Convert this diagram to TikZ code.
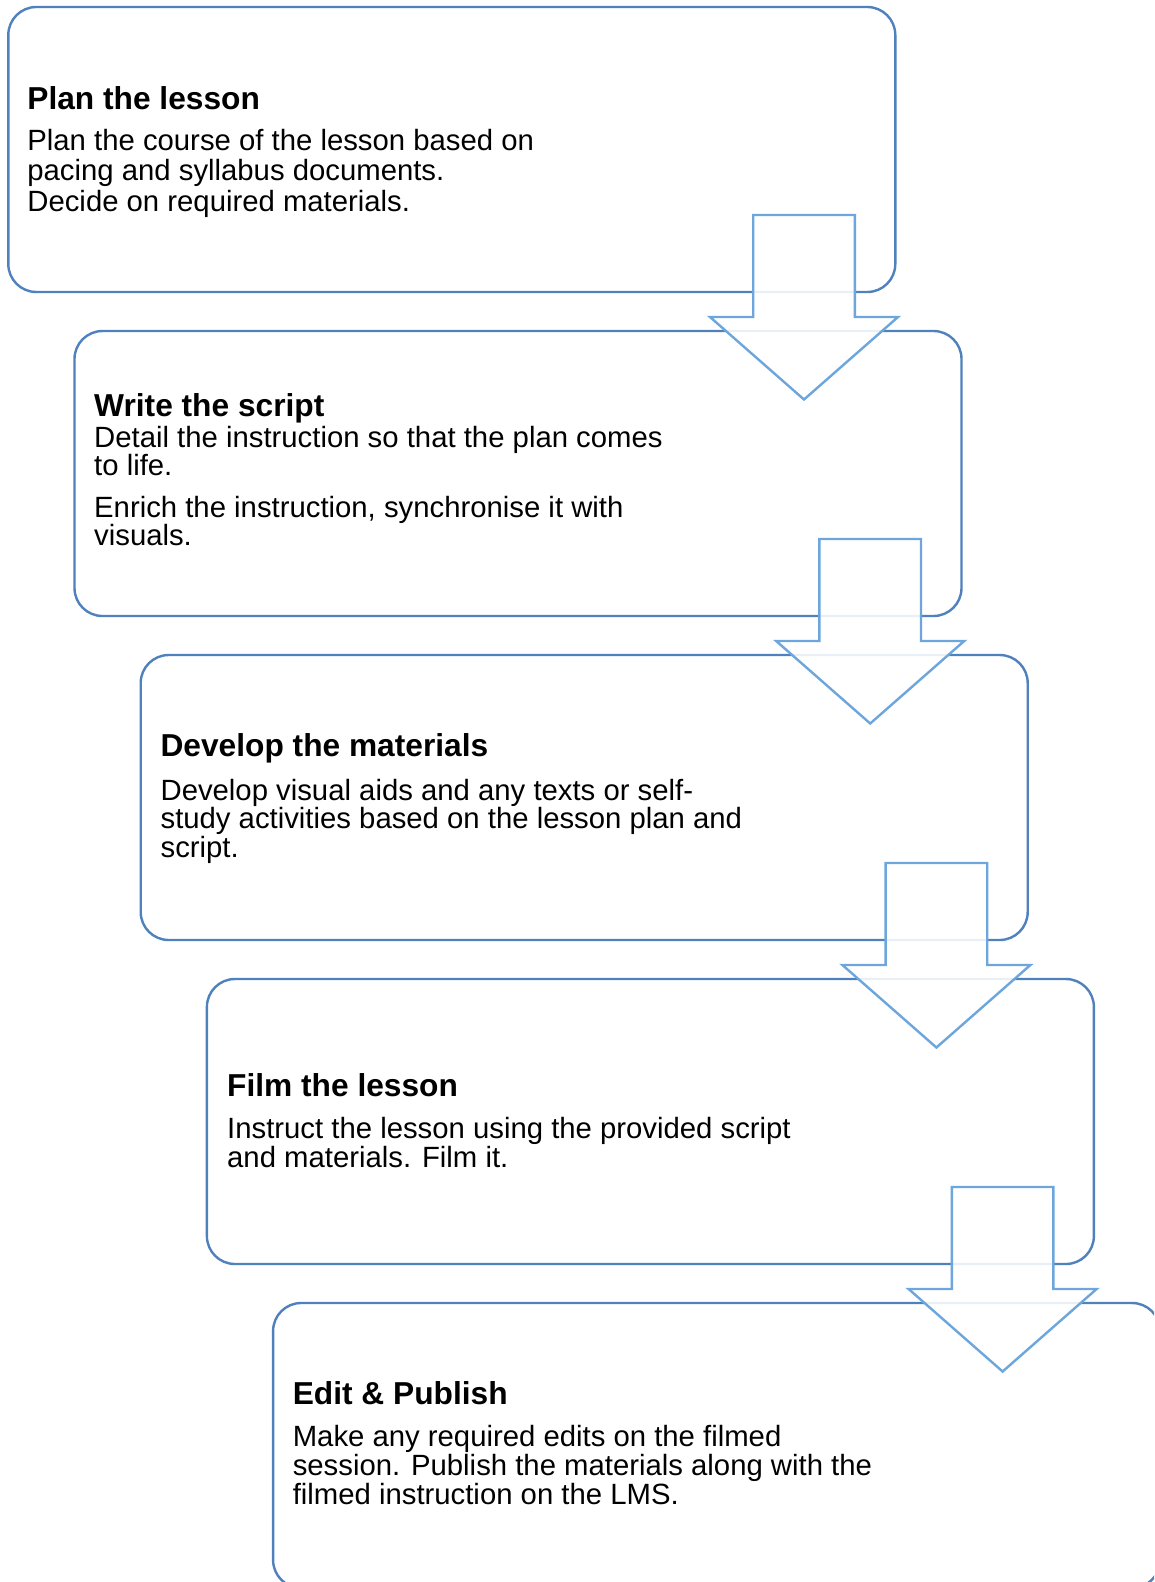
\documentclass[tikz,border=0pt]{standalone}
\usepackage{fontspec}
\setmainfont{Liberation Sans}
\definecolor{boxblue}{RGB}{79,129,189}
\definecolor{arrblue}{RGB}{108,166,221}
\begin{document}
\begin{tikzpicture}[x=1pt,y=-1pt,
  box/.style={draw=boxblue, line width=2.4pt, rounded corners=28pt, fill=white,
    minimum width=887pt, minimum height=285pt, inner sep=0pt, outer sep=0pt},
  blockarrow/.style={draw=arrblue, line width=2.4pt, fill=white, fill opacity=0.88, line join=miter},
  ttl/.style={anchor=base west, inner sep=0pt, font=\fontsize{31.7}{36}\selectfont\bfseries},
  txt/.style={anchor=base west, inner sep=0pt, font=\fontsize{29.3}{32}\selectfont}]
\useasboundingbox (0,0) rectangle (1154,1582);
\clip (0,0) rectangle (1154,1582);
\fill[white] (0,0) rectangle (1154,1582);
% boxes
\node[box] (b1) at (451.8,149.5) {};
\node[box] (b2) at (518.0,473.5) {};
\node[box] (b3) at (584.2,797.5) {};
\node[box] (b4) at (650.4,1121.5) {};
\node[box] (b5) at (716.6,1445.5) {};
% block arrows
\foreach \i in {0,1,2,3}{
  \begin{scope}[shift={(66.2*\i,324*\i)}]
    \coordinate (tip\i) at (804,399.5);
    \draw[blockarrow] (753.2,215) -- (854.8,215) -- (854.8,317) -- (898,317)
      -- (tip\i) -- (710,317) -- (753.2,317) -- cycle;
  \end{scope}
}
% box 1
\node[ttl] (t1) at (27.2,109) {Plan the lesson};
\node[txt] (t1a) at (27.2,150) {Plan the course of the lesson based on};
\node[txt] (t1b) at (27.2,180.7) {pacing and syllabus documents.};
\node[txt] (t1c) at (27.2,211.5) {Decide on required materials.};
% box 2
\node[ttl] (t2) at (94,416) {Write the script};
\node[txt] (t2a) at (94,447) {Detail the instruction so that the plan comes};
\node[txt] (t2b) at (94,475) {to life.};
\node[txt] (t2c) at (94,517) {Enrich the instruction, synchronise it with};
\node[txt] (t2d) at (94,545) {visuals.};
% box 3
\node[ttl] (t3) at (160.4,756.5) {Develop the materials};
\node[txt] (t3a) at (160.4,800) {Develop visual aids and any texts or self-};
\node[txt] (t3b) at (160.4,828) {study activities based on the lesson plan and};
\node[txt] (t3c) at (160.4,857.5) {script.};
% box 4
\node[ttl] (t4) at (227,1096) {Film the lesson};
\node[txt] (t4a) at (227,1138) {Instruct the lesson using the provided script};
\node[txt] (t4b) at (227,1167) {and materials. Film it.};
% box 5
\node[ttl] (t5) at (292.6,1404) {Edit \& Publish};
\node[txt] (t5a) at (292.6,1446) {Make any required edits on the filmed};
\node[txt] (t5b) at (292.6,1475) {session. Publish the materials along with the};
\node[txt] (t5c) at (292.6,1504) {filmed instruction on the LMS.};
\end{tikzpicture}
\end{document}
